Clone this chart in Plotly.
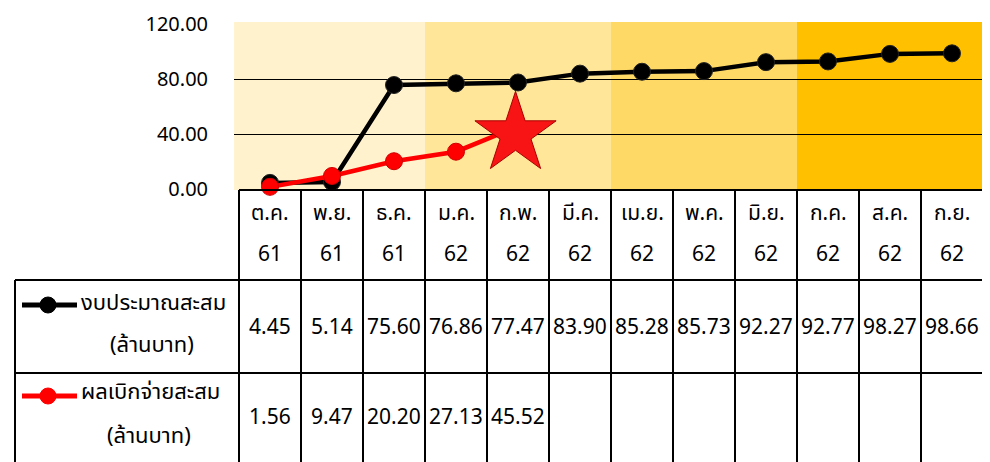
import plotly.graph_objects as go

months = ["ต.ค.", "พ.ย.", "ธ.ค.", "ม.ค.", "ก.พ.", "มี.ค.", "เม.ย.", "พ.ค.", "มิ.ย.", "ก.ค.", "ส.ค.", "ก.ย."]
years = ["61", "61", "61", "62", "62", "62", "62", "62", "62", "62", "62", "62"]
budget = [4.45, 5.14, 75.60, 76.86, 77.47, 83.90, 85.28, 85.73, 92.27, 92.77, 98.27, 98.66]
spent = [1.56, 9.47, 20.20, 27.13, 45.52]
series_names = ["งบประมาณสะสม", "ผลเบิกจ่ายสะสม"]
unit_label = "(ล้านบาท)"
yticks = [0, 40, 80, 120]
quarters = [(0, 2), (3, 5), (6, 8), (9, 11)]
quarter_colors = ["#FFF2CC", "#FFE699", "#FFD966", "#FFC000"]

W, H = 990, 462
OFF = 8  # page body margin offset
FONT = "'Noto Sans', 'Noto Sans Thai', Tahoma, sans-serif"

def py(y):
    return 1 - (y - OFF) / H

def px(x):
    return (x - OFF) / W

xs = list(range(len(months)))

fig = go.Figure()

fig.add_trace(go.Scatter(
    x=xs, y=budget, mode="lines+markers", name=series_names[0],
    line=dict(color="black", width=4.5),
    marker=dict(symbol="circle", size=17, color="black", line=dict(color="#222", width=1)),
    cliponaxis=False, showlegend=False))

fig.add_trace(go.Scatter(
    x=xs[:len(spent)], y=spent, mode="lines+markers", name=series_names[1],
    line=dict(color="#FF0000", width=4.5),
    marker=dict(symbol="circle", size=17, color="#FF0000", line=dict(color="#D00000", width=1)),
    cliponaxis=False, showlegend=False))

# star decoration at last reported month
fig.add_trace(go.Scatter(
    x=[xs[len(spent) - 1] - 0.04], y=[40], mode="markers",
    marker=dict(symbol="star", size=61, color="#F81414", line=dict(color="#A80000", width=1)),
    cliponaxis=False, showlegend=False, hoverinfo="skip"))

shapes = []
# quarter bands
for (a, b), c in zip(quarters, quarter_colors):
    x0 = a - 0.5 if a > 0 else a - 0.58
    x1 = b + 0.5 if b < len(months) - 1 else b + 0.53
    shapes.append(dict(type="rect", xref="x", yref="paper", x0=x0, x1=x1,
                       y0=py(190), y1=py(22), fillcolor=c, line=dict(width=0), layer="below"))

LW = 2
# header row verticals and outline
for i in range(len(months) + 1):
    shapes.append(dict(type="line", xref="x", yref="paper", x0=i - 0.5, x1=i - 0.5,
                       y0=py(190), y1=py(475), line=dict(color="black", width=LW)))
shapes.append(dict(type="line", xref="x", yref="paper", x0=-0.5, x1=len(months) - 0.5,
                   y0=py(190), y1=py(190), line=dict(color="black", width=LW)))
# table rows horizontal lines (include legend column)
for yy in (280, 373):
    shapes.append(dict(type="line", xref="paper", yref="paper", x0=px(15), x1=px(984),
                       y0=py(yy), y1=py(yy), line=dict(color="black", width=LW)))
# left border of legend column
shapes.append(dict(type="line", xref="paper", yref="paper", x0=px(15), x1=px(15),
                   y0=py(280), y1=py(475), line=dict(color="black", width=LW)))

# legend keys in table
for yy, col in ((305, "black"), (396, "#FF0000")):
    shapes.append(dict(type="line", xref="paper", yref="paper", x0=px(22), x1=px(77),
                       y0=py(yy), y1=py(yy), line=dict(color=col, width=5)))
    shapes.append(dict(type="circle", xref="paper", yref="paper", xsizemode="pixel", ysizemode="pixel",
                       xanchor=px(48), yanchor=py(yy), x0=-8, x1=8, y0=-8, y1=8,
                       fillcolor=col, line=dict(color=col, width=1)))

annotations = []
TS = 21

def ann(x, y, text, xref="x", size=TS, xanchor="center"):
    return dict(x=x, y=y, xref=xref, yref="paper", text=text, showarrow=False,
                xanchor=xanchor, yanchor="middle", align="left" if xanchor == "left" else "center",
                font=dict(size=size, color="black", family=FONT))

for i, (m, yv) in enumerate(zip(months, years)):
    annotations.append(ann(i, py(212), m))
    annotations.append(ann(i, py(253), yv))
for i, v in enumerate(budget):
    annotations.append(ann(i, py(326), f"{v:.2f}"))
for i, v in enumerate(spent):
    annotations.append(ann(i, py(416), f"{v:.2f}"))
LS = 22
for name, yy1, yy2, lx1, lx2 in ((series_names[0], 301, 343, 79, 108), (series_names[1], 390, 434, 79, 105)):
    annotations.append(ann(px(lx1), py(yy1), name, xref="paper", size=LS, xanchor="left"))
    annotations.append(ann(px(lx2), py(yy2), unit_label, xref="paper", size=LS, xanchor="left"))

x_lo, x_hi = -0.58, 11.53
pxu = 62
fig.update_layout(
    width=W, height=H, margin=dict(l=0, r=0, t=0, b=0, autoexpand=False),
    paper_bgcolor="white", plot_bgcolor="rgba(0,0,0,0)",
    font=dict(family=FONT, size=16, color="black"),
    xaxis=dict(range=[x_lo, x_hi], domain=[px(239 - 0.08 * pxu), px(983 + 0.03 * pxu)],
               showgrid=False, zeroline=False, showticklabels=False, showline=False,
               fixedrange=True, automargin=False),
    yaxis=dict(range=[0, 120], domain=[py(189), py(24)], tickvals=yticks,
               ticktext=[f"{t:.2f}" for t in yticks],
               showgrid=True, gridcolor="black", gridwidth=1.3, zeroline=False, showline=False,
               ticks="outside", ticklen=21, tickcolor="rgba(0,0,0,0)", automargin=False,
               tickfont=dict(size=20, family=FONT, color="black")),
    shapes=shapes, annotations=annotations,
)

fig.write_html("out.html")
